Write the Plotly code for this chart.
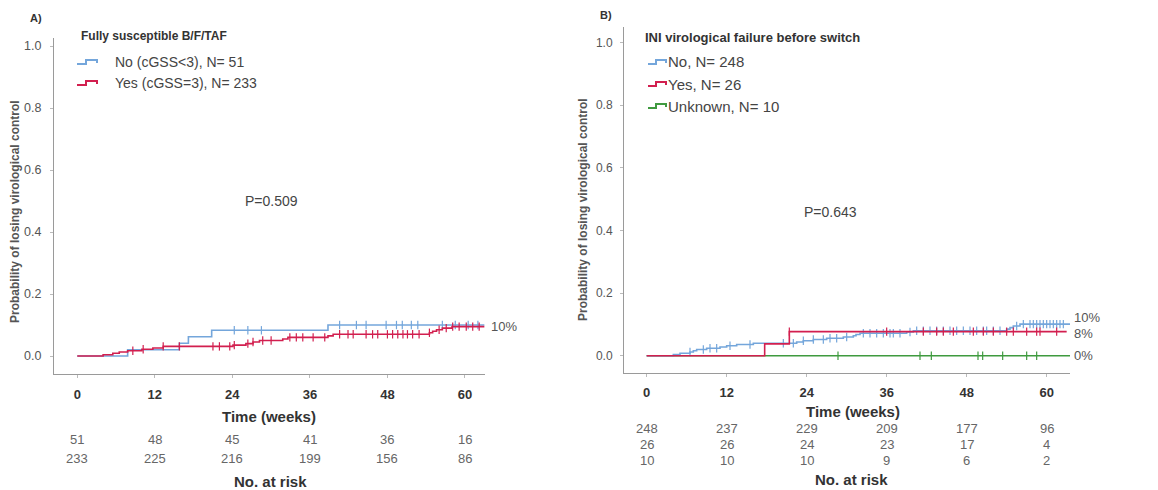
import numpy as np
import plotly.graph_objects as go

W, H = 1158, 490
FONT = "Liberation Sans, Arial, sans-serif"

# ---------------- data ----------------
weeks_ticks = [0, 12, 24, 36, 48, 60]
y_ticks = [0.0, 0.2, 0.4, 0.6, 0.8, 1.0]

# Panel A: Fully susceptible B/F/TAF
a_title = "Fully susceptible B/F/TAF"
a_names = ["No (cGSS<3), N= 51", "Yes (cGSS=3), N= 233"]
a_no_t = [0, 7.8, 15.8, 17.2, 20.8, 38.8]
a_no_p = [0, 0.020, 0.041, 0.062, 0.083, 0.100]
a_no_end = 63.0
a_no_cens = [24.3, 26.4, 28.5, 40.6, 43.2, 44.7, 47.8, 49.4, 50.3, 51.7, 52.7, 56.5, 58.5, 60.5, 62.0]
a_yes_t = [0, 4.0, 5.5, 6.5, 7.8, 10.0, 11.7, 13.3, 24.1, 26.1, 27.2, 28.2, 31.8, 32.6,
           38.8, 39.6, 54.5, 55.0, 55.6, 56.5, 58.0]
a_yes_p = [0, 0.004, 0.009, 0.013, 0.017, 0.022, 0.026, 0.031, 0.035, 0.040, 0.045, 0.050,
           0.055, 0.060, 0.065, 0.070, 0.075, 0.080, 0.085, 0.090, 0.095]
a_yes_end = 63.0
a_yes_cens = [8.6, 10.2, 13.3, 15.8, 21.0, 22.0, 23.6, 24.3, 26.4, 27.2, 28.7, 30.0, 32.9, 33.9,
              34.9, 36.5, 38.3, 40.6, 41.9, 42.7, 44.7, 45.7, 46.5, 48.0, 48.8, 49.6, 50.4, 51.1,
              51.9, 52.9, 54.5, 56.0, 57.1, 58.1, 59.1, 60.2, 61.2, 62.2]
a_pvalue = "P=0.509"
a_end_labels = ["10%"]
a_risk = [[51, 48, 45, 41, 36, 16], [233, 225, 216, 199, 156, 86]]

# Panel B: INI virological failure before switch
b_title = "INI virological failure before switch"
b_names = ["No, N= 248", "Yes, N= 26", "Unknown, N= 10"]
b_no_t = [0, 4.0, 5.0, 6.5, 7.0, 7.5, 9.0, 11.0, 12.0, 13.5, 16.0, 22.5, 23.5, 25.0, 27.0,
          29.5, 31.0, 31.4, 32.0, 39.0, 40.0, 54.0, 54.5, 55.0, 56.0]
b_no_p = [0, 0.004, 0.008, 0.012, 0.016, 0.020, 0.024, 0.028, 0.032, 0.036, 0.040, 0.044,
          0.048, 0.052, 0.056, 0.060, 0.064, 0.068, 0.072, 0.076, 0.080, 0.085, 0.090, 0.095, 0.101]
b_no_end = 63.5
b_no_cens = [6.5, 8.5, 9.5, 10.5, 12.5, 15.5, 20.5, 22.0, 23.5, 25.0, 26.5, 27.5, 28.5, 30.0,
             32.5, 33.5, 34.5, 35.5, 36.5, 37.0, 38.0, 39.5, 40.5, 41.5, 42.5, 43.5, 44.5, 45.5,
             46.5, 47.5, 48.5, 49.5, 50.5, 51.0, 52.0, 53.0, 55.5, 56.5, 57.5, 58.0, 58.5, 59.0,
             59.5, 60.0, 60.5, 61.0, 61.5, 62.0, 62.5]
b_yes_t = [0, 17.7, 21.4]
b_yes_p = [0, 0.038, 0.077]
b_yes_end = 63.0
b_yes_cens = [21.4, 36.0, 41.5, 43.5, 44.5, 46.0, 49.0, 50.5, 52.0, 54.0, 55.0, 57.0, 58.5, 59.0, 61.5]
b_unk_t = [0]
b_unk_p = [0.0]
b_unk_end = 63.5
b_unk_cens = [28.7, 41.0, 42.7, 49.7, 50.4, 53.4, 57.0, 58.5]
b_pvalue = "P=0.643"
b_end_labels = ["10%", "8%", "0%"]
b_risk = [[248, 237, 229, 209, 177, 96], [26, 26, 24, 23, 17, 4], [10, 10, 10, 9, 6, 2]]

BLUE = "#74a6db"
RED = "#d21f4f"
GREEN = "#3f9a3f"
AXIS = "#9a9a9a"
TXT = "#555555"
DARK = "#333333"


def px(x):
    return x / W


def py(y):
    return 1 - y / H


fig = go.Figure()


def add_curve(t, p, end, cens, color, xa, ya):
    t = list(t)
    p = list(p)
    fig.add_trace(go.Scatter(x=t + [end], y=p + [p[-1]], mode="lines", line_shape="hv",
                             line=dict(color=color, width=1.6), xaxis=xa, yaxis=ya,
                             showlegend=False, hoverinfo="skip"))
    ta = np.array(t)
    idx = np.searchsorted(ta, np.array(cens), side="right") - 1
    cy = np.array(p)[idx]
    fig.add_trace(go.Scatter(x=cens, y=cy, mode="markers",
                             marker=dict(symbol="line-ns-open", size=6, color=color,
                                         line=dict(color=color, width=1.2)),
                             xaxis=xa, yaxis=ya, showlegend=False, hoverinfo="skip"))


add_curve(a_no_t, a_no_p, a_no_end, a_no_cens, BLUE, "x", "y")
add_curve(a_yes_t, a_yes_p, a_yes_end, a_yes_cens, RED, "x", "y")
add_curve(b_unk_t, b_unk_p, b_unk_end, b_unk_cens, GREEN, "x2", "y2")
add_curve(b_no_t, b_no_p, b_no_end, b_no_cens, BLUE, "x2", "y2")
add_curve(b_yes_t, b_yes_p, b_yes_end, b_yes_cens, RED, "x2", "y2")

ax_common = dict(showgrid=False, zeroline=False, showline=True, linecolor=AXIS, linewidth=1,
                 ticks="outside", ticklen=3, tickcolor="#bbbbbb", fixedrange=True)

fig.update_layout(
    width=W, height=H, margin=dict(l=0, r=0, t=0, b=0),
    paper_bgcolor="white", plot_bgcolor="white",
    font=dict(family=FONT, color=TXT),
    xaxis=dict(domain=[px(54), px(485)], range=[-3.6, 63.1], tickvals=weeks_ticks,
               tickfont=dict(size=13, color=DARK, weight="bold"), ticklabelstandoff=5,
               anchor="y", **ax_common),
    yaxis=dict(domain=[py(374), py(38)], range=[-0.058, 1.026], tickvals=y_ticks,
               tickformat=".1f", tickfont=dict(size=12.5, color=TXT), ticklabelstandoff=6,
               anchor="x", **ax_common),
    xaxis2=dict(domain=[px(624), px(1070)], range=[-3.4, 63.5], tickvals=weeks_ticks,
                tickfont=dict(size=13, color=DARK, weight="bold"), ticklabelstandoff=4,
                anchor="y2", **ax_common),
    yaxis2=dict(domain=[py(373), py(27)], range=[-0.055, 1.05], tickvals=y_ticks,
                tickformat=".1f", tickfont=dict(size=12, color=TXT), ticklabelstandoff=5,
                anchor="x2", **ax_common),
)

ann = []


def text(x, y, s, size, color=TXT, bold=False, xanchor="left", xref="paper", angle=0):
    ann.append(dict(x=x, y=y, xref=xref, yref="paper", text=s, showarrow=False,
                    xanchor=xanchor, yanchor="middle", textangle=angle,
                    font=dict(size=size, color=color, family=FONT,
                              weight="bold" if bold else "normal")))


# panel labels
text(px(28), py(18), "A)", 11, DARK, True)
text(px(598), py(15), "B)", 11, DARK, True)

# legend A
text(px(79), py(36), a_title, 12, DARK, True)
for i, (nm, col) in enumerate(zip(a_names, [BLUE, RED])):
    yc = 62 + i * 21
    text(px(113), py(yc), nm, 14, "#444444")
    fig.add_shape(type="path", xref="paper", yref="paper",
                  path=f"M {px(77)} {py(yc+2)} L {px(86)} {py(yc+2)} L {px(86)} {py(yc-2)} L {px(97)} {py(yc-2)} L {px(97)} {py(yc+1)}",
                  line=dict(color=col, width=2))

# legend B
text(px(643), py(37), b_title, 13, DARK, True)
for i, (nm, col) in enumerate(zip(b_names, [BLUE, RED, GREEN])):
    yc = 62 + i * 22
    text(px(666), py(yc), nm, 15, "#444444")
    fig.add_shape(type="path", xref="paper", yref="paper",
                  path=f"M {px(648)} {py(yc+2)} L {px(656)} {py(yc+2)} L {px(656)} {py(yc-2)} L {px(666)} {py(yc-2)} L {px(666)} {py(yc+1)}",
                  line=dict(color=col, width=2))

# p-values
ann.append(dict(x=30, y=0.5, xref="x", yref="y", text=a_pvalue, showarrow=False,
                font=dict(size=14, color="#444444", family=FONT)))
ann.append(dict(x=27.5, y=0.46, xref="x2", yref="y2", text=b_pvalue, showarrow=False,
                font=dict(size=14, color="#444444", family=FONT)))

# end labels
ann.append(dict(x=a_yes_end, y=a_yes_p[-1], xref="x", yref="y", text=a_end_labels[0],
                showarrow=False, xanchor="left", xshift=5, font=dict(size=13, color=TXT, family=FONT)))
b_last = [b_no_p[-1], b_yes_p[-1], b_unk_p[-1]]
b_shift = [7, -2, 0]
for lab, val, sh in zip(b_end_labels, b_last, b_shift):
    ann.append(dict(x=b_no_end, y=val, xref="x2", yref="y2", text=lab, showarrow=False,
                    xanchor="left", xshift=2, yshift=sh, font=dict(size=13, color=TXT, family=FONT)))

# y-axis titles
ytitle = "Probability of losing virological control"
text(px(15), py(212), ytitle, 12, "#555555", True, xanchor="center", angle=-90)
text(px(583), py(210), ytitle, 12, "#555555", True, xanchor="center", angle=-90)

# x-axis titles and at-risk tables
text(px(269), py(416), "Time (weeks)", 15, DARK, True, xanchor="center")
text(px(853), py(411), "Time (weeks)", 15, DARK, True, xanchor="center")
for r, row in enumerate(a_risk):
    for wk, n in zip(weeks_ticks, row):
        text(wk, py(439 + r * 19), str(n), 13, "#666666", xanchor="center", xref="x")
for r, row in enumerate(b_risk):
    for wk, n in zip(weeks_ticks, row):
        text(wk, py(428 + r * 16), str(n), 13, "#666666", xanchor="center", xref="x2")
text(px(270), py(481), "No. at risk", 15, DARK, True, xanchor="center")
text(px(851), py(479), "No. at risk", 15, DARK, True, xanchor="center")

fig.update_layout(annotations=ann)
fig.write_html("out.html")
